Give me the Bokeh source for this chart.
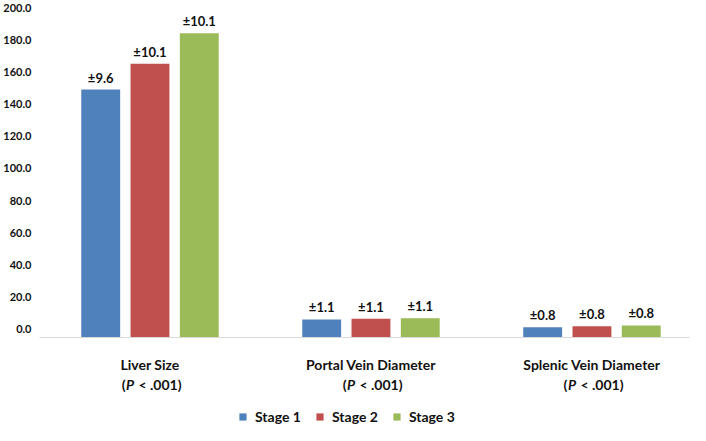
from bokeh.plotting import figure
from bokeh.layouts import column
from bokeh.models import (ColumnDataSource, FixedTicker, NumeralTickFormatter,
                          Range1d, Legend, LegendItem)
from bokeh.core.properties import value
from bokeh.embed import file_html
from bokeh.resources import INLINE

categories = ["Liver Size", "Portal Vein Diameter", "Splenic Vein Diameter"]
series = ["Stage 1", "Stage 2", "Stage 3"]
stage1 = [149.0, 6.2, 1.4]
stage2 = [165.0, 6.6, 2.0]
stage3 = [184.0, 7.0, 2.5]
sd1 = ["±9.6", "±1.1", "±0.8"]
sd2 = ["±10.1", "±1.1", "±0.8"]
sd3 = ["±10.1", "±1.1", "±0.8"]
p_text = "< .001)"
y_ticks = [0, 20, 40, 60, 80, 100, 120, 140, 160, 180, 200]

colors = ["#4F81BD", "#C0504D", "#9BBB59"]
FONT = "Lato"
TXT = "#111111"
Y_MIN, Y_MAX = -5, 200

W = 690
TOP, FRAME_H, BOT = 7, 330, 4
H1 = TOP + FRAME_H + BOT
H2 = 425 - H1
LEFT = 36
X_END = (W - LEFT) / 222.0
xr = Range1d(0, X_END)

p = figure(width=W, height=H1, output_backend="svg", toolbar_location=None,
           x_range=xr, y_range=Range1d(Y_MIN, Y_MAX),
           min_border_left=LEFT, min_border_right=0, min_border_top=TOP,
           min_border_bottom=BOT)
p.outline_line_color = None
p.grid.visible = False

centers = [i + 0.5 for i in range(len(categories))]
offsets = [-0.223, 0.0, 0.223]
bar_w = 0.176

for vals, sds, off, col in zip([stage1, stage2, stage3], [sd1, sd2, sd3], offsets, colors):
    src = ColumnDataSource(dict(x=[c + off for c in centers], top=vals,
                                bottom=[Y_MIN] * len(vals), sd=sds))
    p.vbar(x="x", top="top", bottom="bottom", width=bar_w, source=src,
           fill_color=col, line_color=None)
    p.text(x="x", y="top", text="sd", source=src, text_align="center",
           text_baseline="bottom", y_offset=-4, text_font=value(FONT),
           text_font_style="bold", text_font_size="13px", text_color=TXT)

p.yaxis.ticker = FixedTicker(ticks=y_ticks)
p.yaxis.formatter = NumeralTickFormatter(format="0.0")
p.yaxis.axis_line_color = None
p.yaxis.major_tick_line_color = None
p.yaxis.minor_tick_line_color = None
p.yaxis.major_label_text_font = FONT
p.yaxis.major_label_text_font_style = "bold"
p.yaxis.major_label_text_font_size = "11px"
p.yaxis.major_label_text_color = TXT
p.yaxis.major_label_text_align = "left"
p.yaxis.major_label_standoff = 2

p.xaxis.ticker = FixedTicker(ticks=[])
p.xaxis.axis_line_color = "#D9D9D9"
p.xaxis.major_tick_line_color = None
p.xaxis.minor_tick_line_color = None

# lower strip: category labels and legend
q = figure(width=W, height=H2, output_backend="svg", toolbar_location=None,
           x_range=xr, y_range=Range1d(0, H2),
           x_axis_location=None, y_axis_location=None,
           min_border_left=LEFT, min_border_right=0, min_border_top=0,
           min_border_bottom=0)
q.outline_line_color = None
q.grid.visible = False

lab_src = ColumnDataSource(dict(x=centers, name=categories,
                                y1=[H2 - 23] * len(centers), y2=[H2 - 43] * len(centers)))
common = dict(source=lab_src, text_font=value(FONT), text_font_size="14px",
              text_color=TXT, text_baseline="middle")
q.text(x="x", y="y1", text="name", text_align="center", text_font_style="bold", **common)
q.text(x="x", y="y2", text=value("("), text_align="right", x_offset=-24.5,
       text_font_style="bold", **common)
q.text(x="x", y="y2", text=value("P"), text_align="center", x_offset=-20,
       text_font_style="bold italic", **common)
q.text(x="x", y="y2", text=value(p_text), text_align="left", x_offset=-11.5,
       text_font_style="bold", **common)

leg_r = []
for col in colors:
    leg_r.append(q.vbar(x=[-10], top=[-10], bottom=[-20], width=bar_w,
                        fill_color=col, line_color=None))
legend = Legend(items=[LegendItem(label=s, renderers=[r]) for s, r in zip(series, leg_r)],
                location=(199, 0), orientation="horizontal",
                glyph_width=9, glyph_height=9, label_standoff=8, spacing=14,
                padding=0, margin=0, border_line_color=None, background_fill_alpha=0,
                label_text_font=FONT, label_text_font_style="bold",
                label_text_font_size="14px", label_text_color=TXT,
                label_height=16)
q.add_layout(legend, "center")

layout = column(p, q, spacing=0)
open("out.html", "w").write(file_html(layout, INLINE))
